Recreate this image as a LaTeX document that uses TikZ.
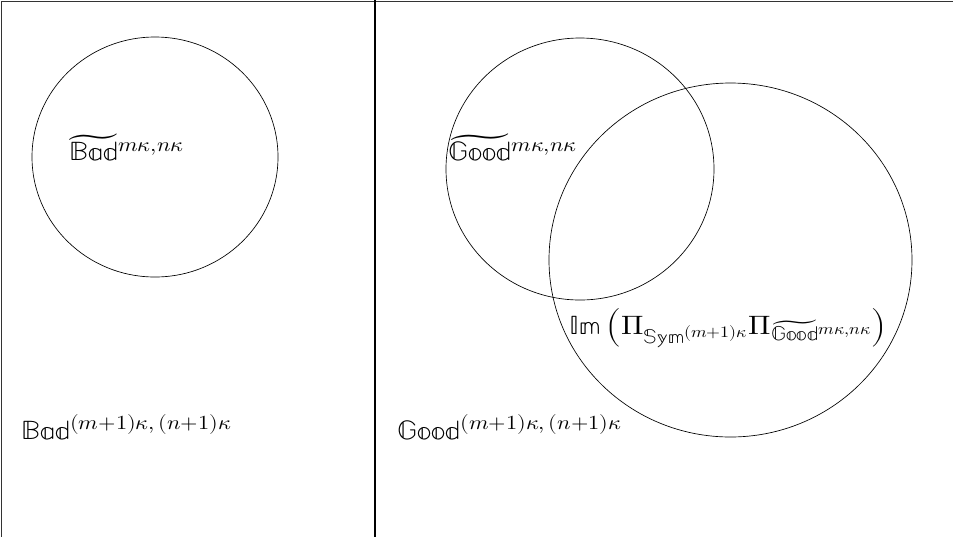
\documentclass[tikz,border=0pt]{standalone}
\usepackage{amsmath}
\usepackage{unicode-math}
\usepackage{tikz}
\usetikzlibrary{positioning}
\DeclareMathSizes{20}{20}{15}{12}
\tikzset{
	frame/.style={draw,line width=0.6pt,black!80},
	divider/.style={draw,line width=0.8pt},
	region/.style={draw,line width=0.5pt},
	setlabel/.style={anchor=west,inner sep=0pt,xscale=1.12,transform shape,font=\fontsize{20}{24}\selectfont},
}

\begin{document}
\begin{tikzpicture}[x=0.75pt,y=-0.75pt]
	\useasboundingbox (0,0) rectangle (953,537);
	
	% Frame and divider
	\draw[frame] (953,1) -- (1,1) -- (1,537);
	\draw[divider] (375,0) -- (375,537);
	
	% Sets
	\draw[region] (155,157) ellipse [x radius=123, y radius=120];
	\draw[region] (580,169) ellipse [x radius=134, y radius=131];
	\draw[region] (730.5,260) ellipse [x radius=181.5, y radius=177];
	
	% Labels
	\node[setlabel] (badtilde) at (69,152) {$\smash[t]{\widetilde{\mathbb{Bad}}}^{m\kappa,n\kappa}$};
	\node[setlabel] (goodtilde) at (448,152) {$\smash[t]{\widetilde{\mathbb{Good}}}^{m\kappa,n\kappa}$};
	\node[setlabel] (image) at (569,328) {$\mathbb{Im}\left(\Pi_{\mathbb{Sym}^{(m+1)\kappa}}\Pi_{\smash[t]{\widetilde{\mathbb{Good}}}^{m\kappa,n\kappa}}\right)$};
	\node[setlabel] (bad) at (21,427) {$\mathbb{Bad}^{(m+1)\kappa,\,(n+1)\kappa}$};
	\node[setlabel] (good) at (397,427) {$\mathbb{Good}^{(m+1)\kappa,\,(n+1)\kappa}$};
	
\end{tikzpicture}
\end{document}
